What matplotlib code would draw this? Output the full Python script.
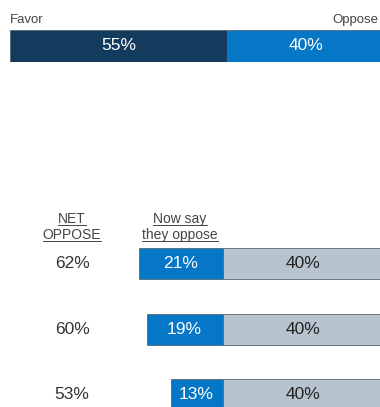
import matplotlib.pyplot as plt

plt.rcParams['font.family'] = ['Liberation Sans', 'DejaVu Sans']

# top bar: overall view
top_labels = ['Favor', 'Oppose']
top_values = [55, 40]

# follow-up rows
net_oppose = [62, 60, 53]
now_oppose = [21, 19, 13]
still_oppose = [40, 40, 40]

NAVY = '#133b5e'
BLUE = '#0677c6'
GRAY = '#b7c3cf'
EDGE = '#5a6670'

W, H = 380, 407
fig = plt.figure(figsize=(W / 100, H / 100), dpi=100)

# ---- top stacked bar (axes runs a little past the right edge so the bar looks cut) ----
ax_top = fig.add_axes([10 / W, 1 - 62 / H, 380 / W, 32 / H])
ax_top.barh(0, top_values[0], left=0, height=1, color=NAVY, edgecolor=EDGE, linewidth=0.6)
ax_top.barh(0, top_values[1], left=top_values[0], height=1, color=BLUE, edgecolor=EDGE, linewidth=0.6)
ax_top.text(top_values[0] / 2, 0, f'{top_values[0]}%', color='white', fontsize=12.5,
            ha='center', va='center')
ax_top.text(top_values[0] + top_values[1] / 2, 0, f'{top_values[1]}%', color='white',
            fontsize=12.5, ha='center', va='center')
scale = 217 / top_values[0]  # pixels per percent
ax_top.set_xlim(0, 380 / scale)
ax_top.set_ylim(-0.5, 0.5)
ax_top.axis('off')

fig.text(10 / W, 1 - 20 / H, top_labels[0], fontsize=9.5, color='#444444', ha='left', va='center')
fig.text(378 / W, 1 - 20 / H, top_labels[1], fontsize=9.5, color='#444444', ha='right', va='center')

# ---- lower rows ----
ax = fig.add_axes([0, 0, 390 / W, 207 / H])
zero_px = 222.5
px = 4.0
row_gap = 65.5
row0 = 263.5
ax.set_xlim(-zero_px / px, (390 - zero_px) / px)
ax.set_ylim((H - row0) / row_gap, (200 - row0) / row_gap)
ax.axis('off')

bar_h = 31 / row_gap
rows = range(len(now_oppose))
ax.barh(list(rows), [-v for v in now_oppose], left=0, height=bar_h, color=BLUE,
        edgecolor=EDGE, linewidth=0.6)
ax.barh(list(rows), still_oppose, left=0, height=bar_h, color=GRAY,
        edgecolor=EDGE, linewidth=0.6)

net_x = (72 - zero_px) / px
for i in rows:
    ax.text(-now_oppose[i] / 2, i, f'{now_oppose[i]}%', color='white', fontsize=12.5,
            ha='center', va='center')
    ax.text(still_oppose[i] / 2, i, f'{still_oppose[i]}%', color='#222222', fontsize=12.5,
            ha='center', va='center')
    ax.text(net_x, i, f'{net_oppose[i]}%', color='#333333', fontsize=12.5,
            ha='center', va='center')

# underlined column headers
hdr_x = [net_x, (180 - zero_px) / px]
hdr_lines = [['NET', 'OPPOSE'], ['Now say', 'they oppose']]
hdr_y = [(219 - row0) / row_gap, (235 - row0) / row_gap]
texts = []
for x, lines in zip(hdr_x, hdr_lines):
    for y, s in zip(hdr_y, lines):
        texts.append(ax.text(x, y, s, fontsize=10, color='#444444', ha='center', va='center'))

fig.canvas.draw()
r = fig.canvas.get_renderer()
for t in texts:
    bb = t.get_window_extent(r)
    yline = bb.y0 + 1
    fig.add_artist(plt.Line2D([bb.x0 / W, bb.x1 / W], [yline / H, yline / H],
                              color='#444444', linewidth=0.7))

fig.savefig('out.png', dpi=100)
